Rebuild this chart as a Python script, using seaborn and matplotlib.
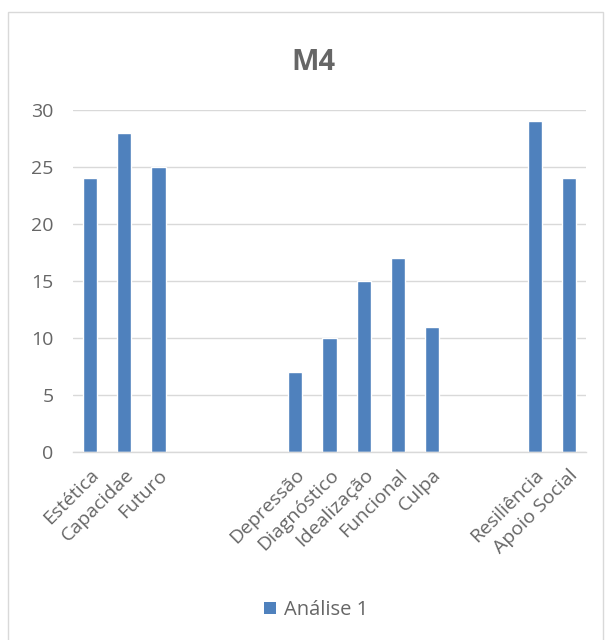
import matplotlib
matplotlib.use("Agg")
import matplotlib.pyplot as plt
import seaborn as sns
import numpy as np
import pandas as pd
from matplotlib.patches import Rectangle, Patch

categories = ["Estética", "Capacidae", "Futuro", " ", "  ", "   ",
              "Depressão", "Diagnóstico", "Idealização", "Funcional", "Culpa",
              "    ", "     ", "Resiliência", "Apoio Social"]
values = [24, 28, 25, np.nan, np.nan, np.nan, 7, 10, 15, 17, 11, np.nan, np.nan, 29, 24]
series_name = "Análise 1"
title = "M4"
yticks = [0, 5, 10, 15, 20, 25, 30]

sns.set_theme(style="white")
plt.rcParams['font.family'] = ['Open Sans', 'DejaVu Sans']

text_color = "#666666"
bar_color = "#4F81BD"
grid_color = "#D9D9D9"

df = pd.DataFrame({"cat": categories, "val": values})

fig = plt.figure(figsize=(6.08, 6.40), dpi=100)
ax = fig.add_axes([73/608, 1-452/640, (586-73)/608, (452-110)/640])

sns.barplot(data=df, x="cat", y="val", order=categories, color=bar_color,
            width=0.41, saturation=1, ax=ax)

ax.set_ylim(0, 30)
ax.set_yticks(yticks)
ax.yaxis.grid(True, color=grid_color, linewidth=1)
ax.set_axisbelow(True)
for s in ["left", "right", "top"]:
    ax.spines[s].set_visible(False)
ax.spines["bottom"].set_color(grid_color)
ax.spines["bottom"].set_linewidth(1)
ax.set_xlabel("")
ax.set_ylabel("")
ax.tick_params(axis="both", length=0, colors=text_color, labelsize=14)
ax.tick_params(axis="y", pad=14)
ax.set_xticks(range(len(categories)))
ax.set_xticklabels(categories, rotation=45, ha="right", rotation_mode="anchor",
                   color=text_color, fontsize=14)
ax.tick_params(axis="x", pad=10)

fig.text(313/608, 1-62/640, title, ha="center", va="center", fontsize=21,
         fontweight="bold", color=text_color)

fig.legend(handles=[Patch(facecolor=bar_color, edgecolor="none", label=series_name)],
           loc="center", bbox_to_anchor=(316/608, 1-610/640), frameon=False,
           fontsize=14.5, handlelength=0.6, handleheight=0.6, handletextpad=0.4,
           labelcolor=text_color)

fig.patches.append(Rectangle((8/608, -0.01), (603-8)/608, 1-12/640+0.01,
                             transform=fig.transFigure, fill=False,
                             edgecolor=grid_color, linewidth=1))

fig.savefig("out.png", dpi=100)
